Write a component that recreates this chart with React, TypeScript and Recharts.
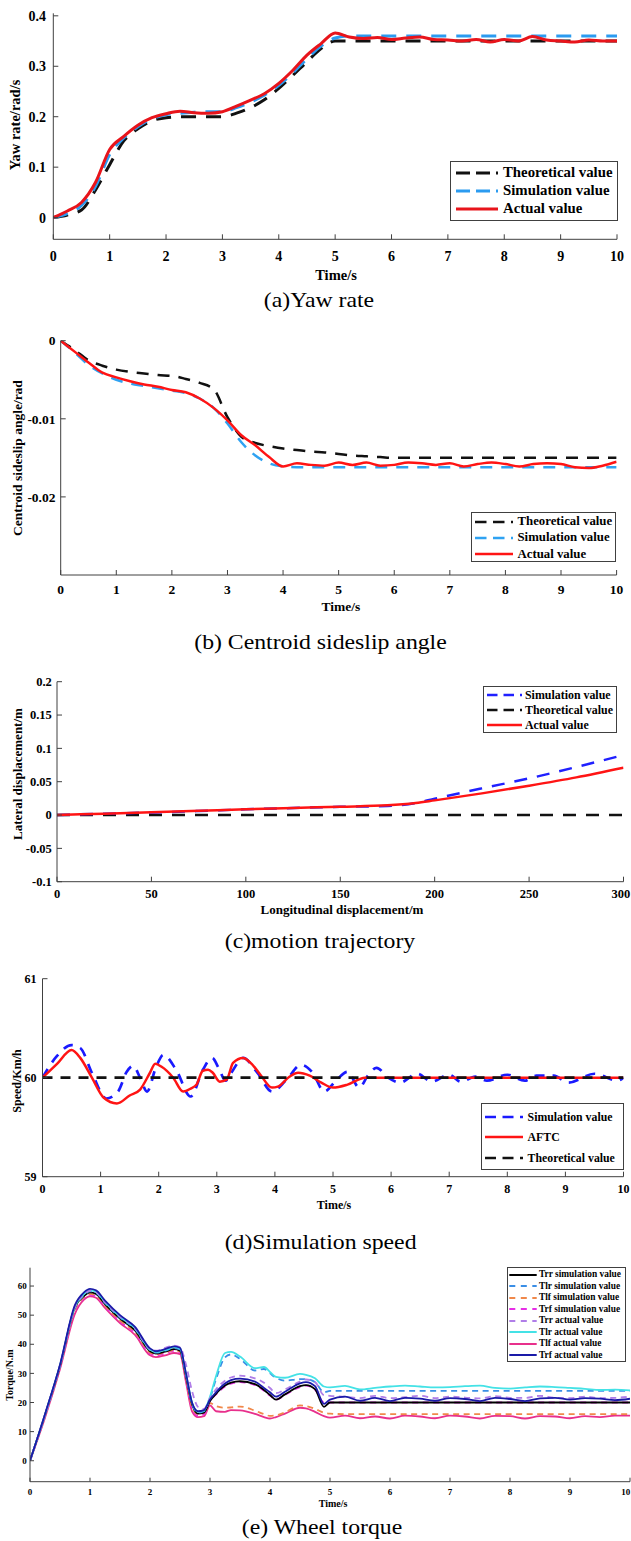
import React from 'react';
import { LineChart, Line, XAxis, YAxis, Legend } from 'recharts';

const SERIF = '"Liberation Serif", "Times New Roman", Times, serif';
const AXIS = '#404040';

// ---------- shared ----------
const TIME_Q = [0, 0.25, 0.5, 0.75, 1, 1.25, 1.5, 1.75, 2, 2.25, 2.5, 2.75, 3, 3.25, 3.5, 3.75, 4, 4.25, 4.5, 4.75, 5, 5.25, 5.5, 5.75, 6, 6.25, 6.5, 6.75, 7, 7.25, 7.5, 7.75, 8, 8.25, 8.5, 8.75, 9, 9.25, 9.5, 9.75, 10];
const TIME_TICKS = [0, 1, 2, 3, 4, 5, 6, 7, 8, 9, 10];

// ---------- (a) yaw rate ----------
const YAW_THEO = [0, 0.005, 0.015, 0.055, 0.105, 0.152, 0.176, 0.192, 0.198, 0.2, 0.2, 0.2, 0.2, 0.207, 0.218, 0.234, 0.256, 0.282, 0.309, 0.335, 0.35, 0.35, 0.35, 0.35, 0.35, 0.35, 0.35, 0.35, 0.35, 0.35, 0.35, 0.35, 0.35, 0.35, 0.35, 0.35, 0.35, 0.35, 0.35, 0.35, 0.35];
const YAW_SIM = [0, 0.008, 0.024, 0.062, 0.125, 0.158, 0.18, 0.196, 0.204, 0.207, 0.209, 0.21, 0.21, 0.218, 0.229, 0.243, 0.262, 0.287, 0.315, 0.34, 0.356, 0.36, 0.36, 0.36, 0.36, 0.36, 0.36, 0.36, 0.36, 0.36, 0.36, 0.36, 0.36, 0.36, 0.36, 0.36, 0.36, 0.36, 0.36, 0.36, 0.36];
const YAW_ACT = [0, 0.013, 0.03, 0.07, 0.135, 0.161, 0.183, 0.198, 0.206, 0.211, 0.208, 0.207, 0.21, 0.221, 0.233, 0.246, 0.266, 0.292, 0.322, 0.345, 0.366, 0.358, 0.355, 0.357, 0.353, 0.356, 0.358, 0.353, 0.352, 0.35, 0.353, 0.348, 0.353, 0.35, 0.359, 0.352, 0.35, 0.348, 0.352, 0.35, 0.35];
const YAW_TICKS = [0, 0.1, 0.2, 0.3, 0.4];

// ---------- (b) sideslip ----------
const SLIP_THEO = [0, -0.0012, -0.0025, -0.0032, -0.0037, -0.004, -0.0042, -0.0044, -0.0045, -0.0049, -0.0054, -0.0062, -0.0098, -0.0123, -0.0131, -0.0135, -0.0138, -0.014, -0.0142, -0.0143, -0.0145, -0.0147, -0.0148, -0.0149, -0.015, -0.015, -0.015, -0.015, -0.015, -0.015, -0.015, -0.015, -0.015, -0.015, -0.015, -0.015, -0.015, -0.015, -0.015, -0.015, -0.015];
const SLIP_SIM = [0, -0.0015, -0.0031, -0.0042, -0.005, -0.0055, -0.0058, -0.0061, -0.0064, -0.0067, -0.0074, -0.0086, -0.0106, -0.013, -0.0147, -0.0157, -0.0161, -0.0162, -0.0162, -0.0162, -0.0162, -0.0162, -0.0162, -0.0162, -0.0162, -0.0162, -0.0162, -0.0162, -0.0162, -0.0162, -0.0162, -0.0162, -0.0162, -0.0162, -0.0162, -0.0162, -0.0162, -0.0162, -0.0162, -0.0162, -0.0162];
const SLIP_ACT = [0, -0.0014, -0.0028, -0.0041, -0.0047, -0.0052, -0.0056, -0.0059, -0.0063, -0.0066, -0.0074, -0.0086, -0.0102, -0.0121, -0.0134, -0.0149, -0.0161, -0.0157, -0.0159, -0.016, -0.0156, -0.0159, -0.0156, -0.016, -0.0159, -0.0156, -0.0157, -0.0159, -0.0157, -0.0161, -0.0158, -0.0156, -0.0158, -0.0161, -0.0158, -0.0157, -0.0158, -0.0162, -0.0163, -0.016, -0.0155];
const SLIP_TICKS = [-0.02, -0.01, 0];

// ---------- (c) trajectory ----------
const LAT_X = [0, 25, 50, 75, 100, 125, 150, 175, 190, 200, 225, 250, 275, 300];
const LAT_SIM = [0, 0.002, 0.0038, 0.006, 0.0085, 0.0105, 0.0123, 0.0135, 0.018, 0.0245, 0.04, 0.055, 0.072, 0.09];
const LAT_ACT = [0, 0.002, 0.004, 0.0063, 0.0087, 0.0107, 0.0125, 0.0145, 0.018, 0.022, 0.0325, 0.044, 0.0565, 0.071];
const LAT_THEO_X = [0, 300];
const LAT_THEO = [0, 0];
const LAT_XTICKS = [0, 50, 100, 150, 200, 250, 300];
const LAT_YTICKS = [-0.1, -0.05, 0, 0.05, 0.1, 0.15, 0.2];

// ---------- (d) speed ----------
const SPD_SIM_T = [0, 0.25, 0.5, 0.65, 0.85, 1.1, 1.3, 1.45, 1.56, 1.68, 1.8, 1.95, 2.08, 2.3, 2.55, 2.76, 2.92, 3.03, 3.15, 3.25, 3.45, 3.7, 3.95, 4.2, 4.45, 4.65, 4.85, 5.05, 5.25, 5.45, 5.6, 5.75, 5.95, 6.15, 6.45, 6.7, 7.0, 7.2, 7.45, 7.65, 8.0, 8.3, 8.5, 8.8, 9.05, 9.5, 9.9, 10];
const SPD_SIM = [60, 60.22, 60.33, 60.3, 60.05, 59.79, 59.86, 60.06, 60.12, 60.0, 59.86, 60.1, 60.23, 60.08, 59.81, 60.08, 60.2, 60.1, 59.97, 60.05, 60.2, 60.05, 59.86, 59.98, 60.13, 60.05, 59.86, 59.97, 60.06, 59.9, 60.02, 60.1, 60, 59.95, 60.04, 59.96, 60.03, 59.96, 60.01, 59.97, 60.03, 59.97, 60.02, 60.02, 59.95, 60.04, 59.97, 60];
const SPD_AFTC_T = [0, 0.25, 0.5, 0.65, 0.85, 1.05, 1.28, 1.5, 1.68, 1.85, 1.94, 2.05, 2.25, 2.42, 2.55, 2.65, 2.76, 2.85, 2.93, 3.05, 3.17, 3.28, 3.45, 3.6, 3.75, 3.95, 4.05, 4.25, 4.4, 4.6, 4.8, 5.0, 5.25, 5.55, 6, 7, 8, 9, 10];
const SPD_AFTC = [60, 60.14, 60.28, 60.2, 60.0, 59.8, 59.74, 59.82, 59.88, 60.05, 60.14, 60.11, 60.0, 59.86, 59.89, 59.93, 60.07, 60.08, 60.05, 59.96, 59.98, 60.15, 60.2, 60.14, 60.03, 59.9, 59.91, 60.01, 60.05, 60.02, 59.95, 59.9, 59.93, 60, 60, 60, 60, 60, 60];
const SPD_THEO_T = [0, 10];
const SPD_THEO = [60, 60];
const SPD_TICKS = [59, 60, 61];

// ---------- (e) wheel torque ----------
const TQ_T = [0, 0.25, 0.5, 0.75, 0.9, 1.0, 1.1, 1.25, 1.5, 1.75, 2.0, 2.1, 2.25, 2.4, 2.5, 2.6, 2.7, 2.8, 2.9, 3.0, 3.1, 3.25, 3.35, 3.5, 3.75, 3.9, 4.0, 4.1, 4.25, 4.5, 4.6, 4.75, 4.9, 5.0, 5.25, 5.5, 5.75, 6.0, 6.25, 6.5, 6.75, 7.0, 7.25, 7.5, 7.75, 8.0, 8.25, 8.5, 8.75, 9.0, 9.25, 9.5, 9.75, 10];
const TRR_SIM = [0, 15.8, 32.6, 52.8, 56.6, 57.8, 57.3, 53.8, 48.8, 44.8, 37.6, 36.8, 37.5, 38.3, 37.8, 29, 19.5, 16.2, 16.5, 20.5, 23, 25.8, 26.8, 27.3, 26.3, 24.3, 22.6, 21, 22.8, 25.6, 26, 24.6, 18.5, 20, 20, 20, 20, 20, 20, 20, 20, 20, 20, 20, 20, 20, 20, 20, 20, 20, 20, 20, 20, 20];
const TLR_SIM = [0, 15.6, 32.5, 52.6, 56.8, 58.2, 57.7, 54.2, 49.2, 45.2, 38, 37.1, 37.8, 38.7, 38.2, 29.5, 19.8, 16.5, 17, 21.5, 28, 35.5, 36.5, 35, 31, 31.5, 30, 28.5, 27.5, 28, 28, 27, 23.5, 24, 24, 24, 24, 24, 24, 24, 24, 24, 24, 24, 24, 24, 24, 24, 24, 24, 24, 24, 24, 24];
const TLF_SIM = [0, 15.3, 32.2, 52, 56.1, 57.3, 56.8, 53.3, 48.2, 44.2, 37.2, 36.5, 37.2, 38, 37.5, 28.5, 18.5, 16, 16.5, 19.8, 18.8, 18.2, 18.3, 18.6, 17.2, 16, 15.4, 15.6, 16.6, 19, 18.8, 17.8, 16.5, 16.2, 16, 16, 16, 16, 16, 16, 16, 16, 16, 16, 16, 16, 16, 16, 16, 16, 16, 16, 16, 16];
const TRF_SIM = [0, 15.2, 32, 51.5, 55.8, 57, 56.5, 53, 47.8, 43.8, 36.8, 36.2, 36.9, 37.7, 37.2, 28, 18, 15.5, 16, 20.5, 22.8, 25.5, 26.5, 27, 26, 24, 22.4, 21, 22.6, 25.3, 25.8, 24.4, 20, 20, 20, 20, 20, 20, 20, 20, 20, 20, 20, 20, 20, 20, 20, 20, 20, 20, 20, 20, 20, 20];
const TRR_ACT = [0, 15.8, 32.8, 53, 57.2, 58.4, 58, 54.5, 49.6, 45.6, 38.4, 37.8, 38.8, 39.5, 39, 33, 24, 18.5, 17.8, 21.5, 24.5, 27.5, 28.6, 29.2, 28.3, 26.8, 25, 23.2, 24.5, 27.2, 27.9, 27, 22.5, 22.3, 22, 21.5, 22.3, 21.5, 21.8, 22.3, 21.5, 22, 21.7, 21.4, 22.2, 21.6, 21.6, 22.3, 21.6, 21.5, 22, 21.5, 21.6, 22];
const TLR_ACT = [0, 15.8, 32.8, 53, 57.2, 58.5, 58, 54.5, 49.5, 45.5, 38.2, 37.3, 38, 39, 38.5, 29.8, 20, 16.8, 17.2, 22, 29, 37, 37.4, 35.8, 31.8, 32.2, 30.5, 28.8, 28.5, 29.8, 29.5, 28.3, 25.5, 25.2, 25.7, 24.5, 25, 25.5, 25.8, 25.5, 25.2, 25.3, 25.6, 25.8, 25, 24.8, 25.2, 25.5, 25.3, 25, 24.7, 24.3, 24.4, 24.2];
const TLF_ACT = [0, 14.8, 31.5, 50.5, 55.3, 56.5, 56, 52.5, 47.3, 43.2, 36.2, 35.6, 36.2, 37, 36.6, 27, 17, 15, 15.3, 19, 17, 16.8, 17.4, 17.3, 16.1, 15, 14.5, 15, 16.2, 18.2, 18, 16.8, 15.3, 14.8, 15.5, 14.6, 15.2, 14.5, 15.5, 15.2, 14.6, 15.5, 15.2, 14.5, 15.4, 15.3, 14.5, 15.3, 15.2, 14.6, 15.3, 15, 15.5, 15.5];
const TRF_ACT = [0, 16, 33, 53.5, 57.8, 59, 58.5, 55, 50, 46, 38.6, 37.6, 38.3, 39.3, 38.8, 30, 20, 17, 17.4, 21, 23.5, 26.5, 27.7, 28.2, 27.2, 25, 23.5, 22, 23.7, 26.6, 27, 25.6, 19.5, 21, 22, 20.6, 21.6, 20.5, 21.6, 21.3, 20.6, 21.5, 21.2, 20.5, 21.6, 21.2, 20.5, 21.4, 21.6, 21, 21.5, 21.3, 20.8, 21.3];
const TQ_TICKS = [0, 10, 20, 30, 40, 50, 60];

// ---------- helpers ----------
const pts = (xs: number[], ys: number[]) => xs.map((x, i) => ({ x, y: ys[i] }));
const tickStyle = (fs: number) => ({ fontFamily: SERIF, fontWeight: 'bold', fontSize: fs, fill: '#000' });
const fmt = (v: number) => String(v);

// x tick label kept inside the page's right edge
function ClampTick(p: any) {
  const label = String(p.payload.value);
  const half = label.length * p.fs * 0.26;
  const x = Math.min(p.x, 631 - half - 0.5);
  return (
    <text x={x} y={p.y} dy="0.71em" textAnchor="middle" fontFamily={SERIF} fontWeight="bold" fontSize={p.fs} fill="#000">{label}</text>
  );
}

type Item = { label: string; color: string; width: number; dash?: string };

function BoxLegend(p: { items: Item[]; w: number; h: number; rowTop: number; rowGap: number; s0: number; s1: number; tx: number; fs: number }) {
  return (
    <div style={{ position: 'relative', width: p.w, height: p.h, border: `1px solid ${AXIS}`, background: '#fff', boxSizing: 'border-box' }}>
      {p.items.map((it, i) => {
        const cy = p.rowTop + i * p.rowGap - 1;
        return (
          <React.Fragment key={it.label}>
            <svg width={p.s1 + 2} height={8} style={{ position: 'absolute', left: -1, top: cy - 4, overflow: 'visible' }}>
              <line x1={p.s0} x2={p.s1} y1={4} y2={4} stroke={it.color} strokeWidth={it.width} strokeDasharray={it.dash} />
            </svg>
            <span style={{ position: 'absolute', left: p.tx - 1, top: cy - p.fs * 0.6, fontFamily: SERIF, fontWeight: 'bold', fontSize: p.fs, lineHeight: `${p.fs * 1.2}px`, whiteSpace: 'nowrap', color: '#000' }}>{it.label}</span>
          </React.Fragment>
        );
      })}
    </div>
  );
}

function XTitle(p: any) {
  return (
    <g>
      <text x={p.ax} y={p.ay} textAnchor="middle" fontFamily={SERIF} fontWeight="bold" fontSize={p.size} fill="#000">{p.titleText}</text>
      <text transform={`translate(${p.capX},${p.capY}) scale(1.08,1)`} textAnchor="middle" fontFamily={SERIF} fontSize={22} fill="#000">{p.caption}</text>
    </g>
  );
}

function YTitle(p: any) {
  return (
    <text transform={`translate(${p.ax},${p.ay}) rotate(-90)`} textAnchor="middle" fontFamily={SERIF} fontWeight="bold" fontSize={p.size} fill="#000">{p.titleText}</text>
  );
}

const lineBase = { type: 'monotone' as const, dataKey: 'y', dot: false, activeDot: false, isAnimationActive: false };

// ---------- panels ----------
function PanelA() {
  const items: Item[] = [
    { label: 'Theoretical value', color: '#111', width: 3, dash: '14 6' },
    { label: 'Simulation value', color: '#2b9bf0', width: 3, dash: '14 6' },
    { label: 'Actual value', color: '#e8141b', width: 3 },
  ];
  return (
    <div style={{ position: 'absolute', left: 0, top: 0 }}>
      <LineChart width={631} height={318} margin={{ top: 13.3, right: 14, bottom: 0, left: 0 }}>
        <XAxis dataKey="x" type="number" domain={[0, 10]} ticks={TIME_TICKS} interval={0} allowDataOverflow height={78.7}
          tickSize={-5} tickMargin={17.2} tick={tickStyle(14)} axisLine={{ stroke: AXIS }} tickLine={{ stroke: AXIS }}
          label={<XTitle ax={336} ay={280} size={14.5} titleText="Time/s" capX={319} capY={307} caption="(a)Yaw rate" />} />
        <YAxis type="number" domain={[-0.043, 0.405]} ticks={YAW_TICKS} interval={0} allowDataOverflow width={53.3}
          tickSize={-5} tickMargin={12.3} tick={tickStyle(14)} tickFormatter={fmt} axisLine={{ stroke: AXIS }} tickLine={{ stroke: AXIS }}
          label={<YTitle ax={20} ay={125} size={14.5} titleText="Yaw rate/rad/s" />} />
        <Line {...lineBase} name="Theoretical value" data={pts(TIME_Q, YAW_THEO)} stroke="#111" strokeWidth={3} strokeDasharray="15 10" />
        <Line {...lineBase} name="Simulation value" data={pts(TIME_Q, YAW_SIM)} stroke="#2b9bf0" strokeWidth={3} strokeDasharray="15 10" />
        <Line {...lineBase} name="Actual value" data={pts(TIME_Q, YAW_ACT)} stroke="#e8141b" strokeWidth={3} />
        <Legend layout="vertical" align="center" verticalAlign="middle" wrapperStyle={{ left: 450, top: 161, width: 168, height: 60 }}
          content={() => <BoxLegend items={items} w={168} h={60} rowTop={12.3} rowGap={18} s0={6} s1={48} tx={53} fs={14.8} />} />
      </LineChart>
    </div>
  );
}

function PanelB() {
  const items: Item[] = [
    { label: 'Theoretical value', color: '#111', width: 2.5, dash: '11.5 6.5' },
    { label: 'Simulation value', color: '#2fa2f2', width: 2.5, dash: '11.5 6.5' },
    { label: 'Actual value', color: '#ff1414', width: 2.5 },
  ];
  return (
    <div style={{ position: 'absolute', left: 0, top: 318 }}>
      <LineChart width={631} height={340} margin={{ top: 22.7, right: 14.4, bottom: 0, left: 0 }}>
        <XAxis dataKey="x" type="number" domain={[0, 10]} ticks={TIME_TICKS} interval={0} allowDataOverflow height={83}
          tickSize={-5} tickMargin={14.4} tick={tickStyle(13.5)} axisLine={{ stroke: AXIS }} tickLine={{ stroke: AXIS }}
          label={<XTitle ax={341} ay={292.5} size={13.5} titleText="Time/s" capX={320.5} capY={330.5} caption="(b) Centroid sideslip angle" />} />
        <YAxis type="number" domain={[-0.03, 0]} ticks={SLIP_TICKS} interval={0} allowDataOverflow width={60.7}
          tickSize={-5} tickMargin={10.2} tick={tickStyle(13.5)} tickFormatter={fmt} axisLine={{ stroke: AXIS }} tickLine={{ stroke: AXIS }}
          label={<YTitle ax={21.5} ay={140} size={13.5} titleText="Centroid sideslip angle/rad" />} />
        <Line {...lineBase} name="Theoretical value" data={pts(TIME_Q, SLIP_THEO)} stroke="#111" strokeWidth={2.5} strokeDasharray="12 9" />
        <Line {...lineBase} name="Simulation value" data={pts(TIME_Q, SLIP_SIM)} stroke="#2fa2f2" strokeWidth={2.5} strokeDasharray="12 9" />
        <Line {...lineBase} name="Actual value" data={pts(TIME_Q, SLIP_ACT)} stroke="#ff1414" strokeWidth={2.5} />
        <Legend layout="vertical" align="center" verticalAlign="middle" wrapperStyle={{ left: 471, top: 194.3, width: 145, height: 50 }}
          content={() => <BoxLegend items={items} w={145} h={50} rowTop={9.4} rowGap={16.3} s0={4} s1={42} tx={46.5} fs={12.8} />} />
      </LineChart>
    </div>
  );
}

function PanelC() {
  const items: Item[] = [
    { label: 'Simulation value', color: '#2020ff', width: 2.5, dash: '10.5 6' },
    { label: 'Theoretical value', color: '#111', width: 2.5, dash: '10.5 6' },
    { label: 'Actual value', color: '#ff1414', width: 2.5 },
  ];
  return (
    <div style={{ position: 'absolute', left: 0, top: 658 }}>
      <LineChart width={631} height={302} margin={{ top: 23.7, right: 7.5, bottom: 0, left: 0 }}>
        <XAxis dataKey="x" type="number" domain={[0, 300]} ticks={LAT_XTICKS} interval={0} allowDataOverflow height={78.3}
          tickSize={-5} tickMargin={12.8} tick={(props: any) => <ClampTick {...props} fs={12.5} />} axisLine={{ stroke: AXIS }} tickLine={{ stroke: AXIS }}
          label={<XTitle ax={342} ay={255.5} size={13} titleText="Longitudinal displacement/m" capX={320} capY={290} caption="(c)motion trajectory" />} />
        <YAxis type="number" domain={[-0.1, 0.2]} ticks={LAT_YTICKS} interval={0} allowDataOverflow width={57}
          tickSize={-5} tickMargin={10.2} tick={tickStyle(12.5)} tickFormatter={fmt} axisLine={{ stroke: AXIS }} tickLine={{ stroke: AXIS }}
          label={<YTitle ax={21.5} ay={116} size={13} titleText="Lateral displacement/m" />} />
        <Line {...lineBase} type="linear" name="Theoretical value" data={pts(LAT_THEO_X, LAT_THEO)} stroke="#111" strokeWidth={2.5} strokeDasharray="13 10" />
        <Line {...lineBase} name="Simulation value" data={pts(LAT_X, LAT_SIM)} stroke="#2020ff" strokeWidth={2.5} strokeDasharray="13 10" />
        <Line {...lineBase} name="Actual value" data={pts(LAT_X, LAT_ACT)} stroke="#ff1414" strokeWidth={2.5} />
        <Legend layout="vertical" align="center" verticalAlign="middle" wrapperStyle={{ left: 483, top: 28, width: 134.4, height: 46.7 }}
          content={() => <BoxLegend items={items} w={134.4} h={46.7} rowTop={9} rowGap={15} s0={4} s1={39} tx={42} fs={11.9} />} />
      </LineChart>
    </div>
  );
}

function PanelD() {
  const items: Item[] = [
    { label: 'Simulation value', color: '#1a1aff', width: 2.5, dash: '11 6.5' },
    { label: 'AFTC', color: '#ff1414', width: 2.5 },
    { label: 'Theoretical value', color: '#111', width: 2.5, dash: '11 6.5' },
  ];
  return (
    <div style={{ position: 'absolute', left: 0, top: 960 }}>
      <LineChart width={631} height={300} margin={{ top: 18.7, right: 7.5, bottom: 0, left: 0 }}>
        <XAxis dataKey="x" type="number" domain={[0, 10]} ticks={TIME_TICKS} interval={0} allowDataOverflow height={83.3}
          tickSize={-5} tickMargin={13} tick={tickStyle(12)} axisLine={{ stroke: AXIS }} tickLine={{ stroke: AXIS }}
          label={<XTitle ax={334} ay={249} size={12} titleText="Time/s" capX={320.6} capY={289} caption="(d)Simulation speed" />} />
        <YAxis type="number" domain={[59, 61]} ticks={SPD_TICKS} interval={0} allowDataOverflow width={42.5}
          tickSize={-5} tickMargin={11.1} tick={tickStyle(12)} tickFormatter={fmt} axisLine={{ stroke: AXIS }} tickLine={{ stroke: AXIS }}
          label={<YTitle ax={21} ay={121} size={12} titleText="Speed/Km/h" />} />
        <Line {...lineBase} name="Simulation value" data={pts(SPD_SIM_T, SPD_SIM)} stroke="#1a1aff" strokeWidth={2.7} strokeDasharray="10 8" />
        <Line {...lineBase} name="AFTC" data={pts(SPD_AFTC_T, SPD_AFTC)} stroke="#ff1414" strokeWidth={2.5} />
        <Line {...lineBase} type="linear" name="Theoretical value" data={pts(SPD_THEO_T, SPD_THEO)} stroke="#111" strokeWidth={2.7} strokeDasharray="10 8" />
        <Legend layout="vertical" align="center" verticalAlign="middle" wrapperStyle={{ left: 480.6, top: 142.7, width: 143, height: 67.3 }}
          content={() => <BoxLegend items={items} w={143} h={67.3} rowTop={14} rowGap={20.8} s0={4} s1={42} tx={47} fs={11.8} />} />
      </LineChart>
    </div>
  );
}

function PanelE() {
  const items: Item[] = [
    { label: 'Trr simulation value', color: '#000', width: 2 },
    { label: 'Tlr simulation value', color: '#3a8ee6', width: 2, dash: '6 5.5' },
    { label: 'Tlf simulation value', color: '#f0884a', width: 2, dash: '6 5.5' },
    { label: 'Trf simulation value', color: '#e62ee6', width: 2, dash: '6 5.5' },
    { label: 'Trr actual value', color: '#b07ee8', width: 2, dash: '6 5.5' },
    { label: 'Tlr actual value', color: '#44e2e6', width: 2 },
    { label: 'Tlf actual value', color: '#e8308c', width: 2 },
    { label: 'Trf actual value', color: '#1a1aa8', width: 2 },
  ];
  const w = 1.8;
  const d = '6 4.5';
  return (
    <div style={{ position: 'absolute', left: 0, top: 1260 }}>
      <LineChart width={631} height={281} margin={{ top: 7.7, right: 1, bottom: 0, left: 0 }}>
        <XAxis dataKey="x" type="number" domain={[0, 10]} ticks={TIME_TICKS} interval={0} allowDataOverflow height={59.3}
          tickSize={-4} tickMargin={11.3} tick={(props: any) => <ClampTick {...props} fs={9} />} axisLine={{ stroke: AXIS }} tickLine={{ stroke: AXIS }}
          label={<XTitle ax={333} ay={246.5} size={10} titleText="Time/s" capX={322} capY={274} caption="(e) Wheel torque" />} />
        <YAxis type="number" domain={[-7.2, 66.3]} ticks={TQ_TICKS} interval={0} allowDataOverflow width={30}
          tickSize={-4} tickMargin={7.3} tick={tickStyle(9)} tickFormatter={fmt} axisLine={{ stroke: AXIS }} tickLine={{ stroke: AXIS }}
          label={<YTitle ax={12.5} ay={115} size={10} titleText="Torque/N.m" />} />
        <Line {...lineBase} name="Tlf actual value" data={pts(TQ_T, TLF_ACT)} stroke="#e8308c" strokeWidth={w} />
        <Line {...lineBase} name="Trf simulation value" data={pts(TQ_T, TRF_SIM)} stroke="#e62ee6" strokeWidth={w} strokeDasharray={d} />
        <Line {...lineBase} name="Tlf simulation value" data={pts(TQ_T, TLF_SIM)} stroke="#f0884a" strokeWidth={w} strokeDasharray={d} />
        <Line {...lineBase} name="Trr simulation value" data={pts(TQ_T, TRR_SIM)} stroke="#000" strokeWidth={w} />
        <Line {...lineBase} name="Tlr simulation value" data={pts(TQ_T, TLR_SIM)} stroke="#3a8ee6" strokeWidth={w} strokeDasharray={d} />
        <Line {...lineBase} name="Tlr actual value" data={pts(TQ_T, TLR_ACT)} stroke="#44e2e6" strokeWidth={w} />
        <Line {...lineBase} name="Trr actual value" data={pts(TQ_T, TRR_ACT)} stroke="#b07ee8" strokeWidth={w} strokeDasharray={d} />
        <Line {...lineBase} name="Trf actual value" data={pts(TQ_T, TRF_ACT)} stroke="#1a1aa8" strokeWidth={w} />
        <Legend layout="vertical" align="center" verticalAlign="middle" wrapperStyle={{ left: 507, top: 6.7, width: 119, height: 95.6 }}
          content={() => <BoxLegend items={items} w={119} h={95.6} rowTop={8.3} rowGap={11.5} s0={2.3} s1={29.7} tx={32} fs={9.4} />} />
      </LineChart>
    </div>
  );
}

export default function App() {
  return (
    <div style={{ position: 'absolute', left: 0, top: 0, width: 631, height: 1541, background: '#fff', overflow: 'hidden' }}>
      <PanelA />
      <PanelB />
      <PanelC />
      <PanelD />
      <PanelE />
    </div>
  );
}
